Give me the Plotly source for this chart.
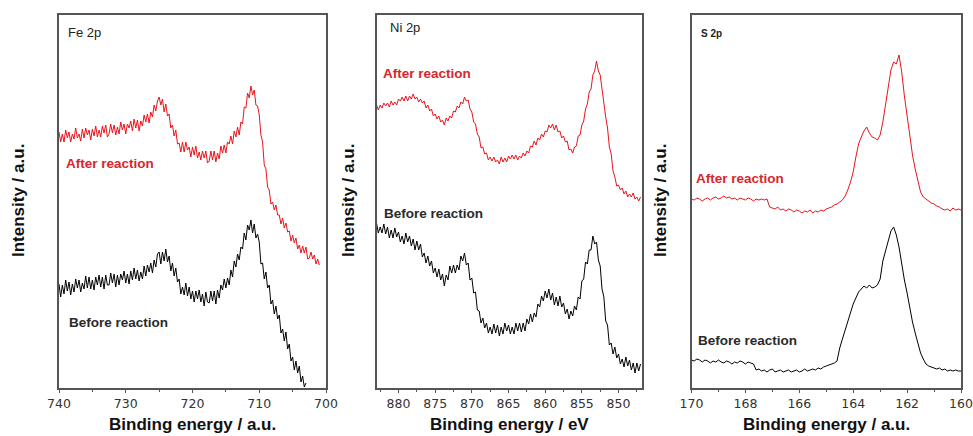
import plotly.graph_objects as go

# XPS core-level spectra (intensity in arbitrary units, curves offset for clarity)

# Fe 2p, after reaction: 740 -> 701 eV in 0.25 eV steps
fe_after = [256, 246, 254, 246, 258, 250, 256, 246, 254, 249,
            260, 250, 254, 247, 259, 250, 260, 253, 258, 248,
            259, 252, 262, 251, 258, 251, 262, 255, 263, 251,
            254, 264, 255, 263, 253, 261, 254, 266, 258, 264,
            254, 264, 260, 267, 257, 269, 260, 268, 257, 267,
            262, 273, 266, 274, 265, 276, 271, 283, 277, 287,
            291, 283, 289, 276, 284, 272, 274, 260, 263, 252,
            258, 244, 245, 236, 246, 236, 246, 238, 241, 231,
            241, 233, 242, 230, 236, 228, 237, 230, 237, 225,
            227, 237, 228, 237, 226, 235, 229, 242, 235, 243,
            235, 246, 244, 252, 244, 257, 251, 261, 253, 266,
            264, 281, 280, 295, 290, 302, 293, 298, 283, 282,
            273, 253, 246, 223, 219, 201, 198, 184, 186, 178,
            183, 173, 173, 164, 170, 160, 165, 156, 157, 147,
            153, 145, 150, 139, 143, 135, 142, 135, 141, 129,
            130, 136, 129, 133, 124, 129, 123]

# Fe 2p, before reaction: 740 -> 703 eV in 0.25 eV steps
fe_before = [104, 91, 103, 94, 108, 97, 106, 93, 104, 96,
             109, 100, 108, 96, 105, 99, 112, 100, 111, 99,
             108, 98, 111, 103, 113, 101, 111, 99, 113, 103,
             103, 115, 105, 114, 101, 113, 103, 114, 108, 117,
             105, 114, 104, 117, 108, 120, 109, 118, 107, 116,
             109, 122, 112, 123, 116, 125, 115, 128, 121, 134,
             136, 124, 136, 127, 139, 126, 132, 117, 125, 112,
             120, 106, 109, 94, 101, 93, 105, 92, 101, 89,
             97, 86, 97, 89, 98, 86, 94, 82, 96, 86,
             85, 97, 87, 97, 84, 98, 90, 103, 98, 109,
             100, 110, 103, 118, 111, 127, 121, 134, 128, 141,
             139, 155, 148, 163, 158, 168, 155, 164, 150, 154,
             146, 124, 125, 109, 116, 100, 103, 84, 88, 74,
             82, 69, 73, 55, 59, 47, 56, 39, 44, 27,
             31, 18, 27, 15, 22, 6, 12, 1, 5]

# Ni 2p, after reaction: 883 -> 847 eV in 0.25 eV steps
ni_after = [283, 278, 283, 280, 285, 282, 285, 281, 287, 283,
            286, 283, 289, 287, 291, 287, 292, 287, 292, 289,
            294, 289, 291, 286, 289, 285, 287, 280, 283, 277,
            279, 272, 274, 269, 272, 266, 268, 263, 270, 267,
            272, 270, 277, 276, 282, 280, 286, 284, 291, 287,
            288, 279, 276, 266, 264, 254, 251, 240, 241, 234,
            235, 228, 231, 227, 231, 226, 228, 224, 231, 226,
            230, 226, 232, 229, 233, 229, 233, 228, 232, 230,
            235, 232, 237, 235, 242, 241, 247, 243, 250, 248,
            254, 251, 257, 256, 263, 260, 264, 258, 263, 256,
            257, 250, 252, 246, 247, 238, 239, 235, 241, 242,
            252, 253, 263, 267, 279, 284, 296, 299, 313, 317,
            327, 317, 313, 298, 289, 271, 260, 241, 234, 217,
            211, 202, 203, 198, 200, 194, 197, 191, 194, 191,
            195, 189, 191, 187, 191]

# Ni 2p, before reaction: 883 -> 847 eV in 0.25 eV steps
ni_before = [165, 155, 161, 155, 164, 154, 161, 150, 158, 150,
             160, 151, 156, 146, 152, 144, 155, 146, 152, 142,
             149, 138, 147, 138, 144, 131, 135, 125, 132, 122,
             127, 115, 120, 111, 119, 108, 114, 102, 113, 108,
             122, 115, 123, 115, 123, 118, 132, 127, 135, 123,
             125, 108, 110, 95, 96, 78, 77, 65, 70, 60,
             65, 55, 61, 54, 64, 55, 63, 52, 61, 54,
             65, 57, 63, 54, 61, 54, 65, 57, 65, 56,
             65, 57, 69, 64, 74, 66, 75, 71, 84, 81,
             92, 87, 97, 90, 99, 88, 95, 83, 91, 82,
             92, 81, 85, 74, 79, 69, 77, 72, 82, 78,
             91, 89, 107, 109, 126, 124, 138, 138, 152, 144,
             146, 128, 122, 99, 91, 67, 63, 43, 45, 34,
             41, 30, 34, 24, 29, 21, 31, 22, 28, 18,
             25, 15, 25, 17, 24]

# S 2p: 170 -> 160 eV in 0.1 eV steps
s_after = [189, 188, 190, 189, 187, 189, 190, 188, 190, 191,
           189, 190, 192, 190, 191, 189, 190, 188, 190, 189,
           188, 190, 189, 187, 189, 188, 189, 188, 189, 181,
           180, 179, 181, 178, 179, 177, 179, 178, 176, 178,
           177, 175, 177, 176, 178, 175, 177, 176, 178, 177,
           179, 180, 181, 183, 184, 186, 188, 192, 198, 206,
           216, 231, 244, 251, 257, 261, 255, 251, 250, 248,
           253, 266, 284, 297, 318, 326, 324, 333, 316, 292,
           271, 252, 233, 219, 206, 196, 191, 189, 187, 185,
           184, 182, 181, 179, 178, 179, 177, 180, 178, 179,
           178]
s_before = [28, 27, 29, 28, 26, 28, 27, 25, 27, 26,
            28, 26, 25, 27, 26, 24, 26, 25, 27, 26,
            24, 26, 25, 24, 18, 19, 17, 18, 16, 18,
            19, 16, 17, 18, 16, 17, 18, 16, 17, 18,
            16, 17, 19, 17, 18, 19, 18, 20, 19, 21,
            22, 23, 24, 25, 27, 40, 49, 58, 67, 76,
            84, 90, 96, 99, 102, 100, 103, 100, 101, 103,
            109, 127, 138, 147, 157, 161, 153, 141, 124, 108,
            95, 80, 66, 55, 45, 35, 29, 24, 22, 21,
            20, 19, 20, 18, 19, 17, 18, 17, 18, 17,
            17]

panel_labels = ["Fe 2p", "Ni 2p", "S 2p"]
x_titles = ["Binding energy / a.u.", "Binding energy / eV", "Binding energy / a.u."]
y_title = "Intensity / a.u."

RED = "#e8141c"
BLACK = "#000000"
AXIS = "#555555"
W, H = 973, 436

fig = go.Figure()

# (after, before, start energy, step, xaxis id)
series = [
    (fe_after, fe_before, 740, -0.25, "x"),
    (ni_after, ni_before, 883, -0.25, "x2"),
    (s_after, s_before, 170, -0.1, "x3"),
]
for after, before, e0, de, xa in series:
    ya = xa.replace("x", "y")
    fig.add_trace(go.Scatter(y=after, x0=e0, dx=de, mode="lines",
                             line=dict(color=RED, width=1), xaxis=xa, yaxis=ya,
                             showlegend=False, hoverinfo="skip"))
    fig.add_trace(go.Scatter(y=before, x0=e0, dx=de, mode="lines",
                             line=dict(color=BLACK, width=1), xaxis=xa, yaxis=ya,
                             showlegend=False, hoverinfo="skip"))

# pixel extents of the three frames
frames = [(59, 326), (376.5, 642), (691.5, 961)]
top_px, bot_px = 14.5, 388
ydom = [1 - bot_px / H, 1 - top_px / H]

x_ranges = [[740, 700], [883, 846.8], [170, 160]]
x_dticks = [10, 5, 2]
x_minor = [5, 2.5, 1]

tick_font = dict(family="DejaVu Sans", size=12.5, color="#333333")
common_x = dict(showline=True, linecolor=AXIS, linewidth=1.5, mirror=True,
                ticks="outside", ticklen=3, tickwidth=1, tickcolor=AXIS,
                showgrid=False, zeroline=False, tickfont=tick_font,
                automargin=False)
common_y = dict(showline=True, linecolor=AXIS, linewidth=1.5, mirror=True,
                showticklabels=False, ticks="", showgrid=False, zeroline=False,
                range=[0, 373.5], automargin=False)

layout = {}
for i, (l, r) in enumerate(frames):
    sfx = "" if i == 0 else str(i + 1)
    layout["xaxis" + sfx] = dict(common_x, domain=[l / W, r / W],
                                 range=x_ranges[i], dtick=x_dticks[i],
                                 tick0=0, anchor="y" + sfx,
                                 minor=dict(dtick=x_minor[i], ticks="outside",
                                            ticklen=2, tickcolor=AXIS))
    layout["yaxis" + sfx] = dict(common_y, domain=ydom, anchor="x" + sfx)

fig.update_layout(**layout)

ann = []


def px_ann(x, y, text, size, color, bold=False, angle=0, xanchor="left"):
    t = f"<b>{text}</b>" if bold else text
    ann.append(dict(x=x / W, y=1 - y / H, xref="paper", yref="paper", text=t,
                    showarrow=False, xanchor=xanchor, yanchor="middle",
                    textangle=angle,
                    font=dict(family="Liberation Sans", size=size, color=color)))


# element labels in each frame
px_ann(66, 32, panel_labels[0], 13, "#222222")
px_ann(388, 27, panel_labels[1], 13, "#222222")
px_ann(699, 33, panel_labels[2], 10, "#222222", bold=True)

# curve labels
after_pos = [(64, 163), (381, 74), (694, 178)]
before_pos = [(67, 322), (382, 213), (696, 340)]
for (xa, ya_), (xb, yb) in zip(after_pos, before_pos):
    px_ann(xa, ya_, "After reaction", 13.5, "#d8262c", bold=True)
    px_ann(xb, yb, "Before reaction", 13.5, "#2a2a2a", bold=True)

# axis titles
for (l, r), xt in zip(frames, x_titles):
    px_ann((l + r) / 2, 424, xt, 17, "#111111", bold=True, xanchor="center")
for xc in [18, 348, 660]:
    px_ann(xc, 201, y_title, 17, "#111111", bold=True, angle=-90, xanchor="center")

fig.update_layout(annotations=ann, width=W, height=H,
                  margin=dict(l=0, r=0, t=0, b=0),
                  paper_bgcolor="white", plot_bgcolor="white")

fig.write_html("out.html")
